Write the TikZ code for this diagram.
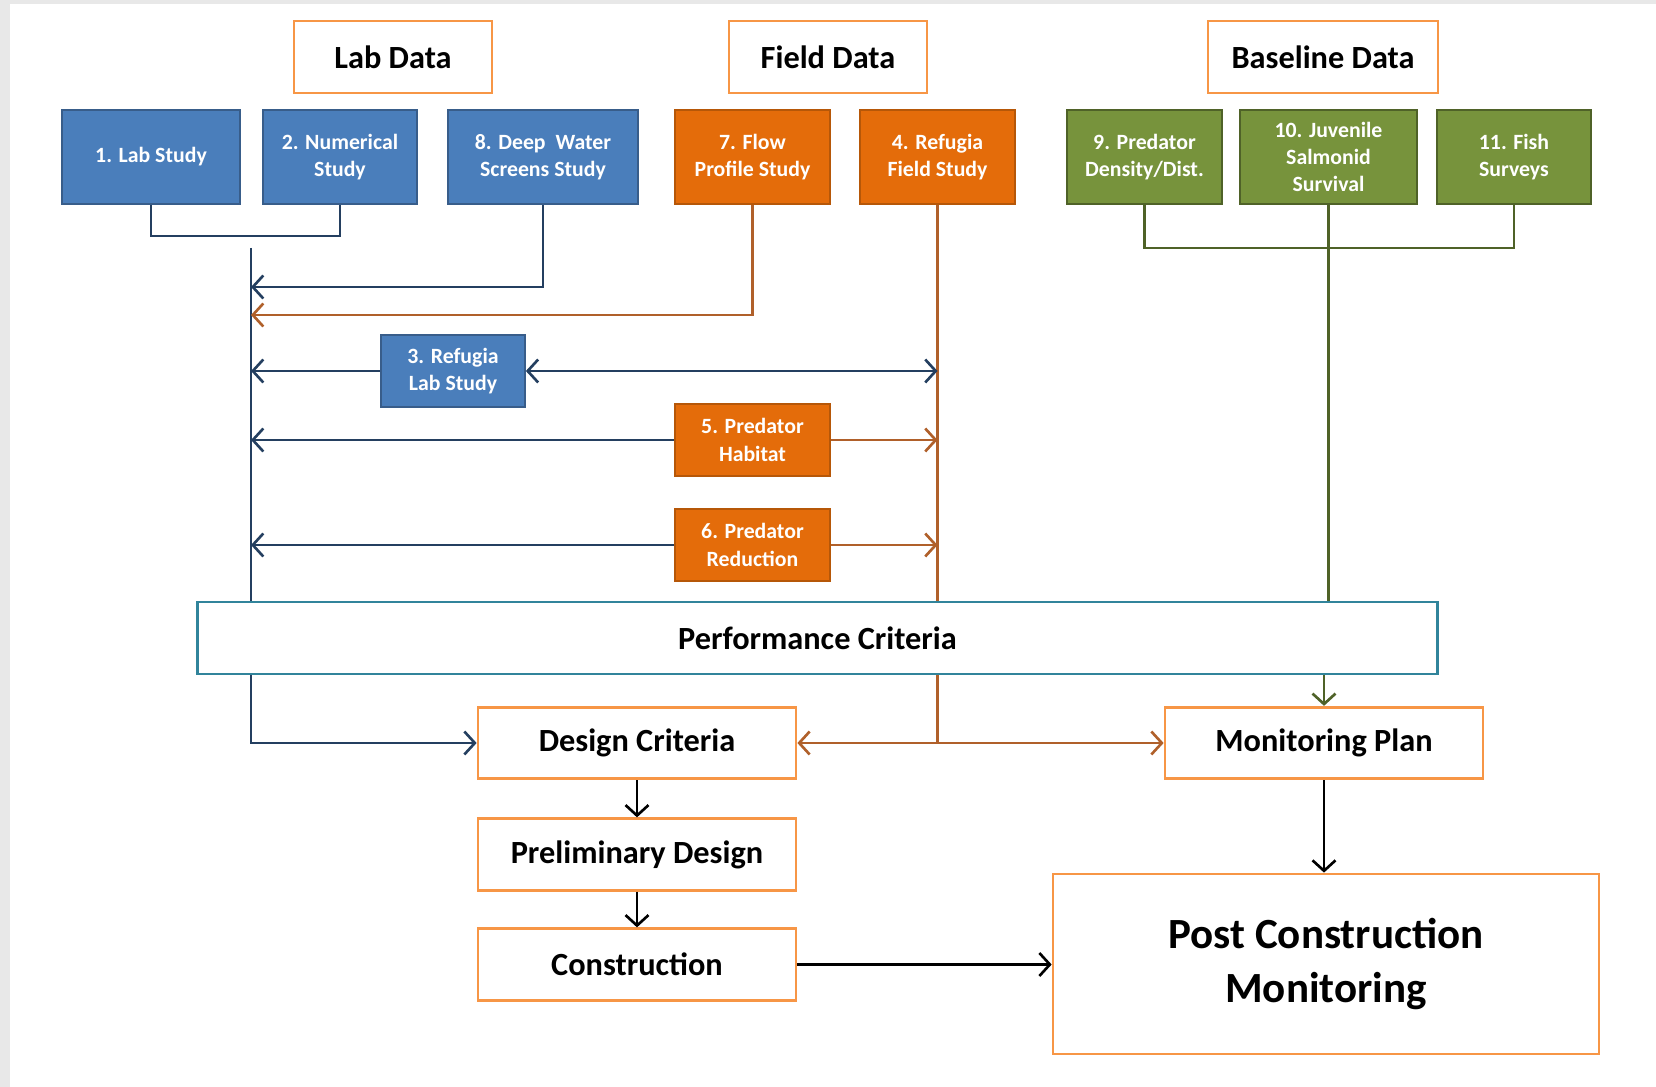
\documentclass[tikz,border=0pt]{standalone}
\usepackage{fontspec}
\setmainfont{Carlito}
\usepackage{tikz}
\usetikzlibrary{arrows.meta}
\definecolor{studyblue}{HTML}{4A7EBB}
\definecolor{studyblueline}{HTML}{385D8A}
\definecolor{fieldorange}{HTML}{E46C0A}
\definecolor{fieldorangeline}{HTML}{B65708}
\definecolor{basegreen}{HTML}{77933C}
\definecolor{basegreenline}{HTML}{4F6228}
\definecolor{headorange}{HTML}{F79646}
\definecolor{perfteal}{HTML}{31849B}
\definecolor{navyline}{HTML}{243F60}
\definecolor{brownline}{HTML}{B0602A}

\begin{document}
\begin{tikzpicture}[
  x=0.02cm, y=-0.02cm,
  barb/.tip={Straight Barb[length=2.1mm,width=4.6mm]},
  head/.style={draw=headorange, line width=1.6pt, fill=white, minimum height=1.44cm,
    font=\fontsize{18.4}{22}\selectfont\bfseries},
  study/.style={line width=1pt, minimum height=1.88cm, align=center, text=white,
    font=\fontsize{12.4}{15.6}\selectfont\bfseries},
  lab/.style={study, draw=studyblueline, fill=studyblue},
  field/.style={study, draw=fieldorangeline, fill=fieldorange},
  base/.style={study, draw=basegreenline, fill=basegreen},
  step2/.style={draw=headorange, line width=1.6pt, fill=white, minimum width=6.36cm,
    minimum height=1.43cm, font=\fontsize{18.4}{22}\selectfont\bfseries},
  nvy/.style={draw=navyline, line width=1.5pt},
  brn/.style={draw=brownline, line width=1.5pt},
  grn/.style={draw=basegreenline, line width=1.5pt},
  blk/.style={draw=black, line width=1.5pt, -barb}
]
  \fill[white] (0,0) rectangle (1656,1087);
  \fill[black!9] (0,0) rectangle (10,1087);
  \fill[black!9] (0,0) rectangle (1656,4);
  \useasboundingbox (0,0) rectangle (1656,1087);

  \node[head, minimum width=3.96cm] (labdata)   at (393,57)  {Lab Data};
  \node[head, minimum width=3.96cm] (fielddata) at (828,57)  {Field Data};
  \node[head, minimum width=4.6cm]  (baseline)  at (1323,57) {Baseline Data};

  \node[lab, minimum width=3.56cm] (lab1)  at (151,157) {1. Lab Study};
  \node[lab, minimum width=3.08cm] (num2)  at (340,157) {2. Numerical\\Study};
  \node[lab, minimum width=3.8cm]  (deep8) at (543,157) {8. Deep~ Water\\Screens Study};
  \node[field, minimum width=3.1cm] (flow7)     at (752.5,157) {7. Flow\\Profile Study};
  \node[field, minimum width=3.1cm] (reffield4) at (937.5,157) {4. Refugia\\Field Study};
  \node[base, minimum width=3.1cm]  (pred9)  at (1144.5,157) {9. Predator\\Density/Dist.};
  \node[base, minimum width=3.54cm] (juv10)  at (1328.5,157) {10. Juvenile\\Salmonid\\Survival};
  \node[base, minimum width=3.08cm] (fish11) at (1514,157)   {11. Fish\\Surveys};

  \node[lab, minimum width=2.88cm, minimum height=1.44cm] (reflab3) at (453,371) {3. Refugia\\Lab Study};
  \node[field, minimum width=3.1cm, minimum height=1.44cm] (habitat5) at (752.5,440) {5. Predator\\Habitat};
  \node[field, minimum width=3.1cm, minimum height=1.44cm] (reduction6) at (752.5,545) {6. Predator\\Reduction};

  \node[draw=perfteal, line width=1.6pt, fill=white, minimum width=24.82cm, minimum height=1.44cm,
    font=\fontsize{18.4}{22}\selectfont\bfseries] (perf) at (817.5,638) {Performance Criteria};

  \node[step2] (design) at (637,743)   {Design Criteria};
  \node[step2] (prelim) at (637,854.5) {Preliminary Design};
  \node[step2] (constr) at (637,964.5) {Construction};
  \node[step2] (monplan) at (1324,743) {Monitoring Plan};
  \node[draw=headorange, line width=1.6pt, fill=white, minimum width=10.92cm, minimum height=3.6cm,
    align=center, font=\fontsize{24.5}{31}\selectfont\bfseries] (postcon) at (1326,964)
    {Post Construction\\Monitoring};

  \coordinate (spine) at (251,248);
  \coordinate (in8) at (251,287);
  \coordinate (in7) at (251,315);

  \draw[nvy] (lab1.south) -- ++(0,31) -| (num2.south);
  \draw[nvy] (spine) -- (spine |- perf.north);
  \draw[nvy, -barb] (deep8.south) |- (in8);
  \draw[brn, -barb] (flow7.south) |- (in7);
  \draw[brn] (reffield4.south) -- (reffield4.south |- perf.north);

  \draw[nvy, -barb] (reflab3.west) -- (reflab3.west -| spine);
  \draw[nvy, barb-barb] (reflab3.east) -- (reflab3.east -| reffield4.south);
  \draw[nvy, -barb] (habitat5.west) -- (habitat5.west -| spine);
  \draw[brn, -barb] (habitat5.east) -- (habitat5.east -| reffield4.south);
  \draw[nvy, -barb] (reduction6.west) -- (reduction6.west -| spine);
  \draw[brn, -barb] (reduction6.east) -- (reduction6.east -| reffield4.south);

  \draw[grn] (pred9.south) -- ++(0,43) -| (fish11.south);
  \draw[grn] (juv10.south) -- (juv10.south |- perf.north);

  \draw[nvy, -barb] (spine |- perf.south) |- (design.west);
  \draw[brn, -barb] (reffield4.south |- perf.south) |- (design.east);
  \draw[brn, -barb] (reffield4.south |- perf.south) |- (monplan.west);
  \draw[grn, -barb] (monplan.north |- perf.south) -- (monplan.north);

  \draw[blk] (design.south) -- (prelim.north);
  \draw[blk] (prelim.south) -- (constr.north);
  \draw[blk] (monplan.south) -- (monplan.south |- postcon.north);
  \draw[blk] (constr.east) -- (constr.east -| postcon.west);
\end{tikzpicture}
\end{document}
